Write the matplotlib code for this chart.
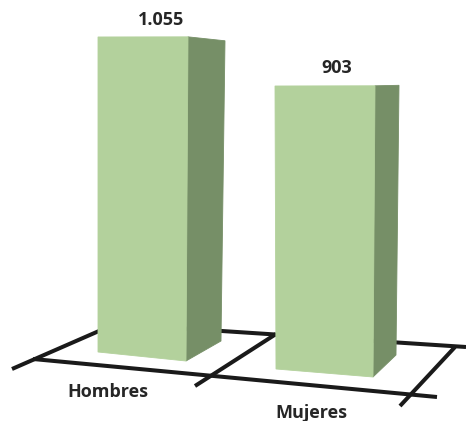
import matplotlib
matplotlib.use("Agg")
import matplotlib.pyplot as plt
from matplotlib.patches import Polygon

# data
categories = ["Hombres", "Mujeres"]
values = [1055, 903]
value_labels = ["1.055", "903"]

# colours
front_color = "#b3d19c"
side_color = "#768f67"
line_color = "#1a1a1a"
text_color = "#262626"

plt.rcParams["font.family"] = ["Open Sans", "DejaVu Sans"]

W, H = 466, 421
fig = plt.figure(figsize=(W / 100, H / 100), dpi=100)
ax = fig.add_axes([0, 0, 1, 1])
ax.set_xlim(0, W)
ax.set_ylim(H, 0)
ax.axis("off")

# floor grid (pixel layout of the perspective floor)
floor_lines = [
    ((33, 359), (437, 397)),   # front edge
    ((115, 324), (466, 347)),  # back edge
    ((12, 369), (115, 324)),   # left divider
    ((195, 386), (276, 334)),  # middle divider
    ((400, 406), (455, 347)),  # right divider
]
for (x0, y0), (x1, y1) in floor_lines:
    ax.plot([x0, x1], [y0, y1], color=line_color, lw=2.9,
            solid_capstyle="butt", zorder=1)

# bar footprint on the floor: front-left, front-right, back-right corners
bar_base = [
    [(98, 352), (186, 361), (221, 341)],
    [(276, 369), (373, 377), (396, 355)],
]
top_lean = [(0, 2, 4), (-1, 2, 3)]   # small perspective lean of the edges
bar_scale = [0.2986, 0.3134]         # pixels per unit (perspective depth)
edge_factor = [1.0, 1.029, 0.953]

for i, v in enumerate(values):
    base = bar_base[i]
    tops = []
    for j, (bx, by) in enumerate(base):
        h = v * bar_scale[i] * edge_factor[j]
        tops.append((bx + top_lean[i][j], by - h))
    front = [base[0], base[1], tops[1], tops[0]]
    side = [base[1], base[2], tops[2], tops[1]]
    ax.add_patch(Polygon(side, closed=True, facecolor=side_color,
                         edgecolor=side_color, lw=0.6, zorder=2))
    ax.add_patch(Polygon(front, closed=True, facecolor=front_color,
                         edgecolor=front_color, lw=0.6, zorder=3))
    cx = (tops[0][0] + tops[2][0]) / 2
    ty = min(t[1] for t in tops)
    ax.text(cx, ty - 17, value_labels[i], ha="center", va="center",
            fontsize=13, fontweight="bold", color=text_color)

# category labels under the floor
label_pos = [(108, 392), (311, 413)]
for name, (lx, ly) in zip(categories, label_pos):
    ax.text(lx, ly, name, ha="center", va="center", fontsize=13,
            fontweight="bold", color=text_color)

fig.savefig("out.png", dpi=100)
